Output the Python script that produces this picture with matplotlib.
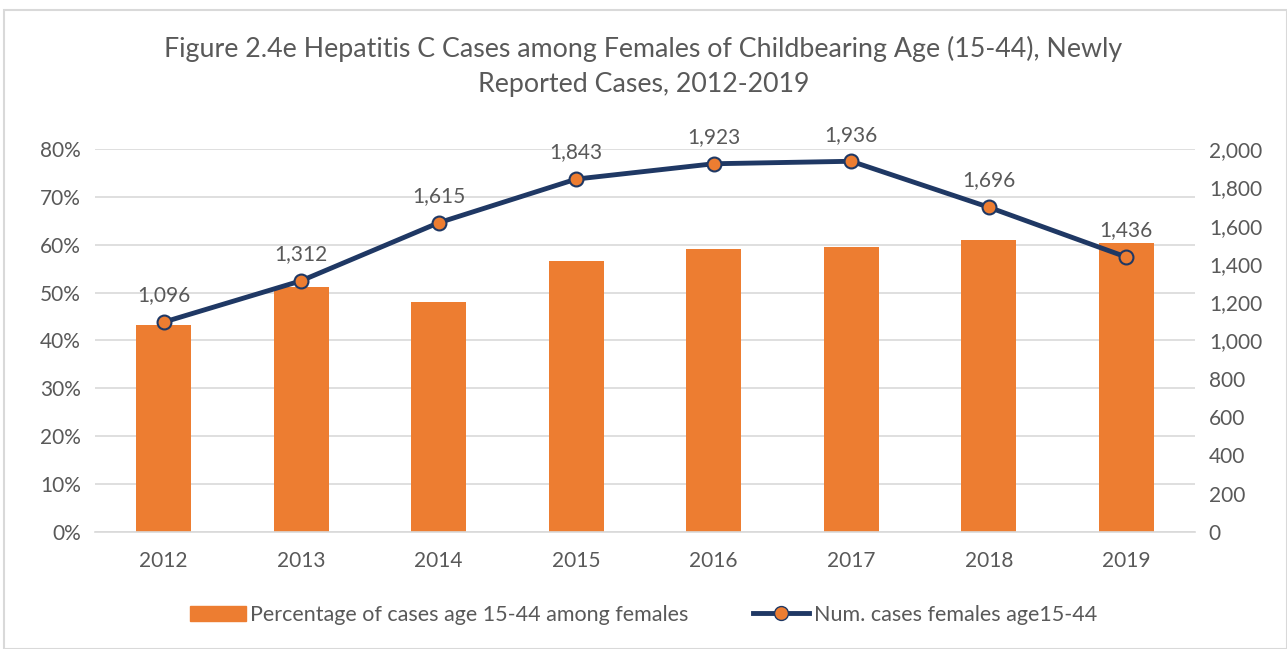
import matplotlib.pyplot as plt
from matplotlib.patches import Rectangle
from matplotlib.lines import Line2D
from matplotlib.ticker import FuncFormatter

plt.rcParams['font.family'] = ['Lato', 'DejaVu Sans']

years = ['2012', '2013', '2014', '2015', '2016', '2017', '2018', '2019']
pct_females = [0.432, 0.511, 0.480, 0.566, 0.591, 0.595, 0.610, 0.603]
num_cases = [1096, 1312, 1615, 1843, 1923, 1936, 1696, 1436]

ORANGE = '#ED7D31'
NAVY = '#1F3864'
GRAY = '#595959'

fig = plt.figure(figsize=(12.87, 6.49), dpi=100)
ax = fig.add_axes([0.0738, 0.1803, 0.8547, 0.5901])
ax2 = ax.twinx()

x = range(len(years))
ax.bar(x, pct_females, width=0.4, color=ORANGE, zorder=2)
ax.set_ylim(0, 0.8)
ax.set_xlim(-0.5, len(years) - 0.5)
ax.set_yticks([i / 10 for i in range(9)])
ax.yaxis.set_major_formatter(FuncFormatter(lambda v, p: f'{v:.0%}'))
ax.grid(axis='y', color='#D9D9D9', linewidth=1.2, zorder=0)
ax.set_axisbelow(True)
ax.set_xticks(list(x))
ax.set_xticklabels(years)

ax2.plot(x, num_cases, color=NAVY, linewidth=3.5, marker='o', markersize=10,
         markerfacecolor=ORANGE, markeredgecolor=NAVY, markeredgewidth=1.5, zorder=3)
ax2.set_ylim(0, 2000)
ax2.set_yticks(range(0, 2001, 200))
ax2.yaxis.set_major_formatter(FuncFormatter(lambda v, p: f'{int(v):,}'))
for xi, v in zip(x, num_cases):
    ax2.annotate(f'{v:,}', (xi, v), xytext=(0, 12), textcoords='offset points',
                 ha='center', va='bottom', fontsize=15, color=GRAY)

for a in (ax, ax2):
    for s in a.spines.values():
        s.set_visible(False)
    a.tick_params(length=0, labelsize=15, colors=GRAY, pad=10)
ax.tick_params(axis='x', pad=14)
ax.spines['bottom'].set_visible(True)
ax.spines['bottom'].set_color('#D9D9D9')
ax.spines['bottom'].set_linewidth(1.2)

fig.text(0.5, 0.898, 'Figure 2.4e Hepatitis C Cases among Females of Childbearing Age (15-44), Newly\nReported Cases, 2012-2019',
         ha='center', va='center', fontsize=19.3, color=GRAY, linespacing=1.5)

handles = [Rectangle((0, 0), 1, 1, color=ORANGE),
           Line2D([], [], color=NAVY, linewidth=3.5, marker='o', markersize=10,
                  markerfacecolor=ORANGE, markeredgecolor=NAVY)]
fig.legend(handles, ['Percentage of cases age 15-44 among females', 'Num. cases females age15-44'],
           loc='center', bbox_to_anchor=(0.5, 0.053), ncol=2, frameon=False,
           fontsize=15.5, labelcolor=GRAY, columnspacing=3, handlelength=2.6, handletextpad=0.2)

fig.patches.append(Rectangle((0.003, 0.0), 0.997, 0.985, transform=fig.transFigure,
                             fill=False, edgecolor='#D9D9D9', linewidth=1.5))

fig.savefig('out.png', dpi=100)
plt.close(fig)
